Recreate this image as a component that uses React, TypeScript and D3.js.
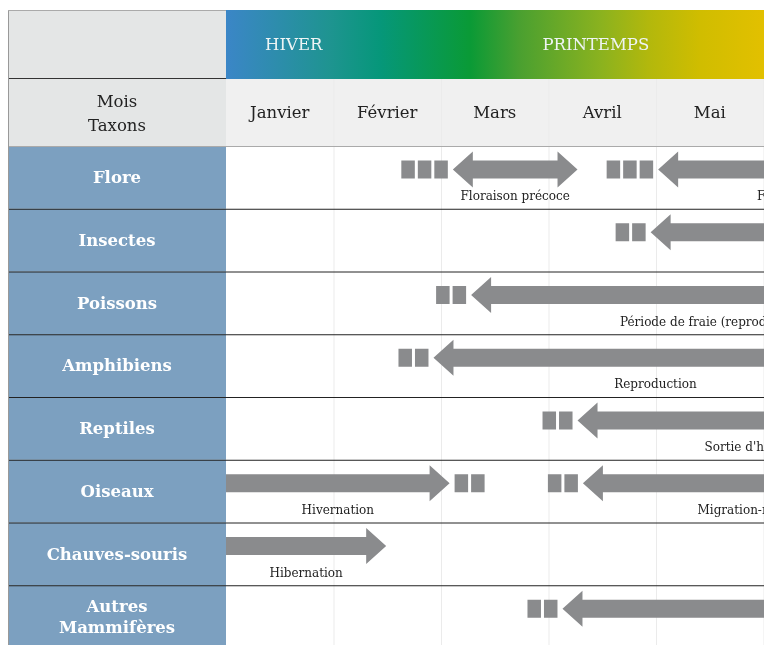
import { line, range, scaleBand, scaleLinear } from "d3";

const months = ["Janvier", "Février", "Mars", "Avril", "Mai", "Juin", "Juillet", "Août", "Septembre", "Octobre", "Novembre", "Décembre"];
const taxa = ["Flore", "Insectes", "Poissons", "Amphibiens", "Reptiles", "Oiseaux", "Chauves-souris", "Autres\nMammifères"];

const seasons = ["HIVER", "PRINTEMPS"];
const seasonLabelAt = [0.63, 3.44];

// gradient colour stops, position in months
const gradientAt = [0, 0.97, 1.43, 2.27, 2.73, 3.48, 3.94, 4.41, 5.0];
const gradientColors = ["#3b86c7", "#1e9490", "#06977a", "#0a9a36", "#4aa030", "#8ab21f", "#b3b80c", "#d0bd00", "#e2c000"];

// phases (months from 1st January)
const phaseTaxon = [0, 0, 1, 2, 3, 4, 5, 5, 6, 7];
const phaseStart = [2.11, 4.02, 3.95, 2.28, 1.93, 3.27, 0, 3.32, 0, 3.13];
const phaseEnd = [3.27, 6.86, 7.5, 6.81, 6.06, 6.77, 2.08, 6.69, 1.49, 7.5];
const phaseHeads = ["both", "left", "left", "left", "left", "left", "right", "left", "right", "left"];
const phaseDots = [3, 3, 2, 2, 2, 2, 2, 2, 0, 2];
const phaseLabels = ["Floraison précoce", "Floraison estivale", "", "Période de fraie (reproduction)", "Reproduction", "Sortie d'hibernation", "Hivernation", "Migration-nidification", "Hibernation", ""];

const W = 756;
const H = 637;
const leftW = 218;
const top = 2;
const head1 = 69;
const head2 = 67;
const bodyTop = top + head1 + head2;
const rowH = 62.75;

const font = "'DejaVu Serif', serif";
const grey = "#8a8b8d";

const arrowPath = (x0: number, x1: number, y: number, heads: string) => {
  const sh = 9, hh = 18, hl = 20;
  const pts: [number, number][] = [];
  if (heads === "left" || heads === "both") {
    pts.push([x0, y], [x0 + hl, y - hh], [x0 + hl, y - sh]);
  } else {
    pts.push([x0, y - sh]);
  }
  if (heads === "right" || heads === "both") {
    pts.push([x1 - hl, y - sh], [x1 - hl, y - hh], [x1, y], [x1 - hl, y + hh], [x1 - hl, y + sh]);
  } else {
    pts.push([x1, y - sh], [x1, y + sh]);
  }
  if (heads === "left" || heads === "both") {
    pts.push([x0 + hl, y + sh], [x0 + hl, y + hh]);
  } else {
    pts.push([x0, y + sh]);
  }
  return line()(pts) + "Z";
};

export default function App() {
  const x = scaleLinear().domain([0, 12]).range([leftW, leftW + 12 * 107.5]);
  const y = scaleBand().domain(taxa).range([bodyTop, bodyTop + rowH * taxa.length]);
  const sq = 13.5, sqGap = 3, sqPad = 5;

  return (
    <svg
      width={W}
      height={H}
      style={{ position: "fixed", left: 8, top: 8, display: "block", overflow: "hidden" }}
      fontFamily={font}
    >
      <defs>
        <linearGradient id="season" gradientUnits="userSpaceOnUse" x1={x(0)} x2={x(5)} y1={0} y2={0}>
          {gradientAt.map((m, i) => (
            <stop key={i} offset={m / 5} stopColor={gradientColors[i]} />
          ))}
        </linearGradient>
      </defs>

      {/* header */}
      <rect x={0} y={top} width={leftW} height={head1 + head2} fill="#e4e6e6" />
      <rect x={leftW} y={top} width={W - leftW} height={head1} fill="url(#season)" />
      <rect x={leftW} y={top + head1} width={W - leftW} height={head2} fill="#f0f0f0" />
      {seasons.map((s, i) => (
        <text key={s} x={x(seasonLabelAt[i])} y={top + head1 / 2} dy="0.35em" textAnchor="middle" fontSize={16.5} fill="#eef4f4">
          {s}
        </text>
      ))}
      <line x1={0} x2={leftW} y1={top + head1 - 0.5} y2={top + head1 - 0.5} stroke="#333" />
      <text x={leftW / 2} y={top + head1 + 22} dy="0.35em" textAnchor="middle" fontSize={16.5} fill="#222">Mois</text>
      <text x={leftW / 2} y={top + head1 + 46} dy="0.35em" textAnchor="middle" fontSize={16.5} fill="#222">Taxons</text>
      {months.map((m, i) => (
        <text key={m} x={x(i + 0.5)} y={top + head1 + head2 / 2} dy="0.35em" textAnchor="middle" fontSize={16.5} fill="#222">
          {m}
        </text>
      ))}

      {/* month grid */}
      {range(1, 13).map((i) => (
        <line key={i} x1={x(i) + 0.5} x2={x(i) + 0.5} y1={top + head1} y2={H} stroke="#ebebeb" />
      ))}

      {/* taxon rows */}
      {taxa.map((t) => {
        const lines = t.split("\n");
        const cy = y(t)! + rowH / 2;
        return (
          <g key={t}>
            <rect x={0} y={y(t)} width={leftW} height={rowH} fill="#7ca0c0" />
            {lines.map((l, j) => (
              <text key={l} x={leftW / 2} y={cy + (j - (lines.length - 1) / 2) * 21} dy="0.35em" textAnchor="middle" fontSize={16.5} fontWeight="bold" fill="#fff">
                {l}
              </text>
            ))}
          </g>
        );
      })}
      {taxa.map((t, i) => (
        <line key={t} x1={0} x2={W} y1={y(t)! + 0.5} y2={y(t)! + 0.5} stroke={i === 0 ? "#aaa" : "#222"} />
      ))}

      {/* phases */}
      {phaseTaxon.map((ti, i) => {
        const rowTop = y(taxa[ti])!;
        const ay = rowTop + 23.5;
        const x0 = x(phaseStart[i]);
        const x1 = x(phaseEnd[i]);
        const dotsAfter = phaseHeads[i] === "right";
        const dots = range(phaseDots[i]).map((k) =>
          dotsAfter ? x1 + sqPad + k * (sq + sqGap) : x0 - sqPad - sq - k * (sq + sqGap)
        );
        return (
          <g key={i}>
            {dots.map((dx, k) => (
              <rect key={k} x={dx} y={ay - 9} width={sq} height={18} fill={grey} />
            ))}
            <path d={arrowPath(x0, x1, ay, phaseHeads[i])} fill={grey} />
            {phaseLabels[i] && (
              <text x={(x0 + x1) / 2} y={rowTop + 54} textAnchor="middle" fontSize={12} fill="#222">
                {phaseLabels[i]}
              </text>
            )}
          </g>
        );
      })}

      {/* outer border */}
      <line x1={0.5} x2={0.5} y1={top} y2={H} stroke="#999" />
      <line x1={0} x2={leftW} y1={top + 0.5} y2={top + 0.5} stroke="#aaa" />
    </svg>
  );
}
